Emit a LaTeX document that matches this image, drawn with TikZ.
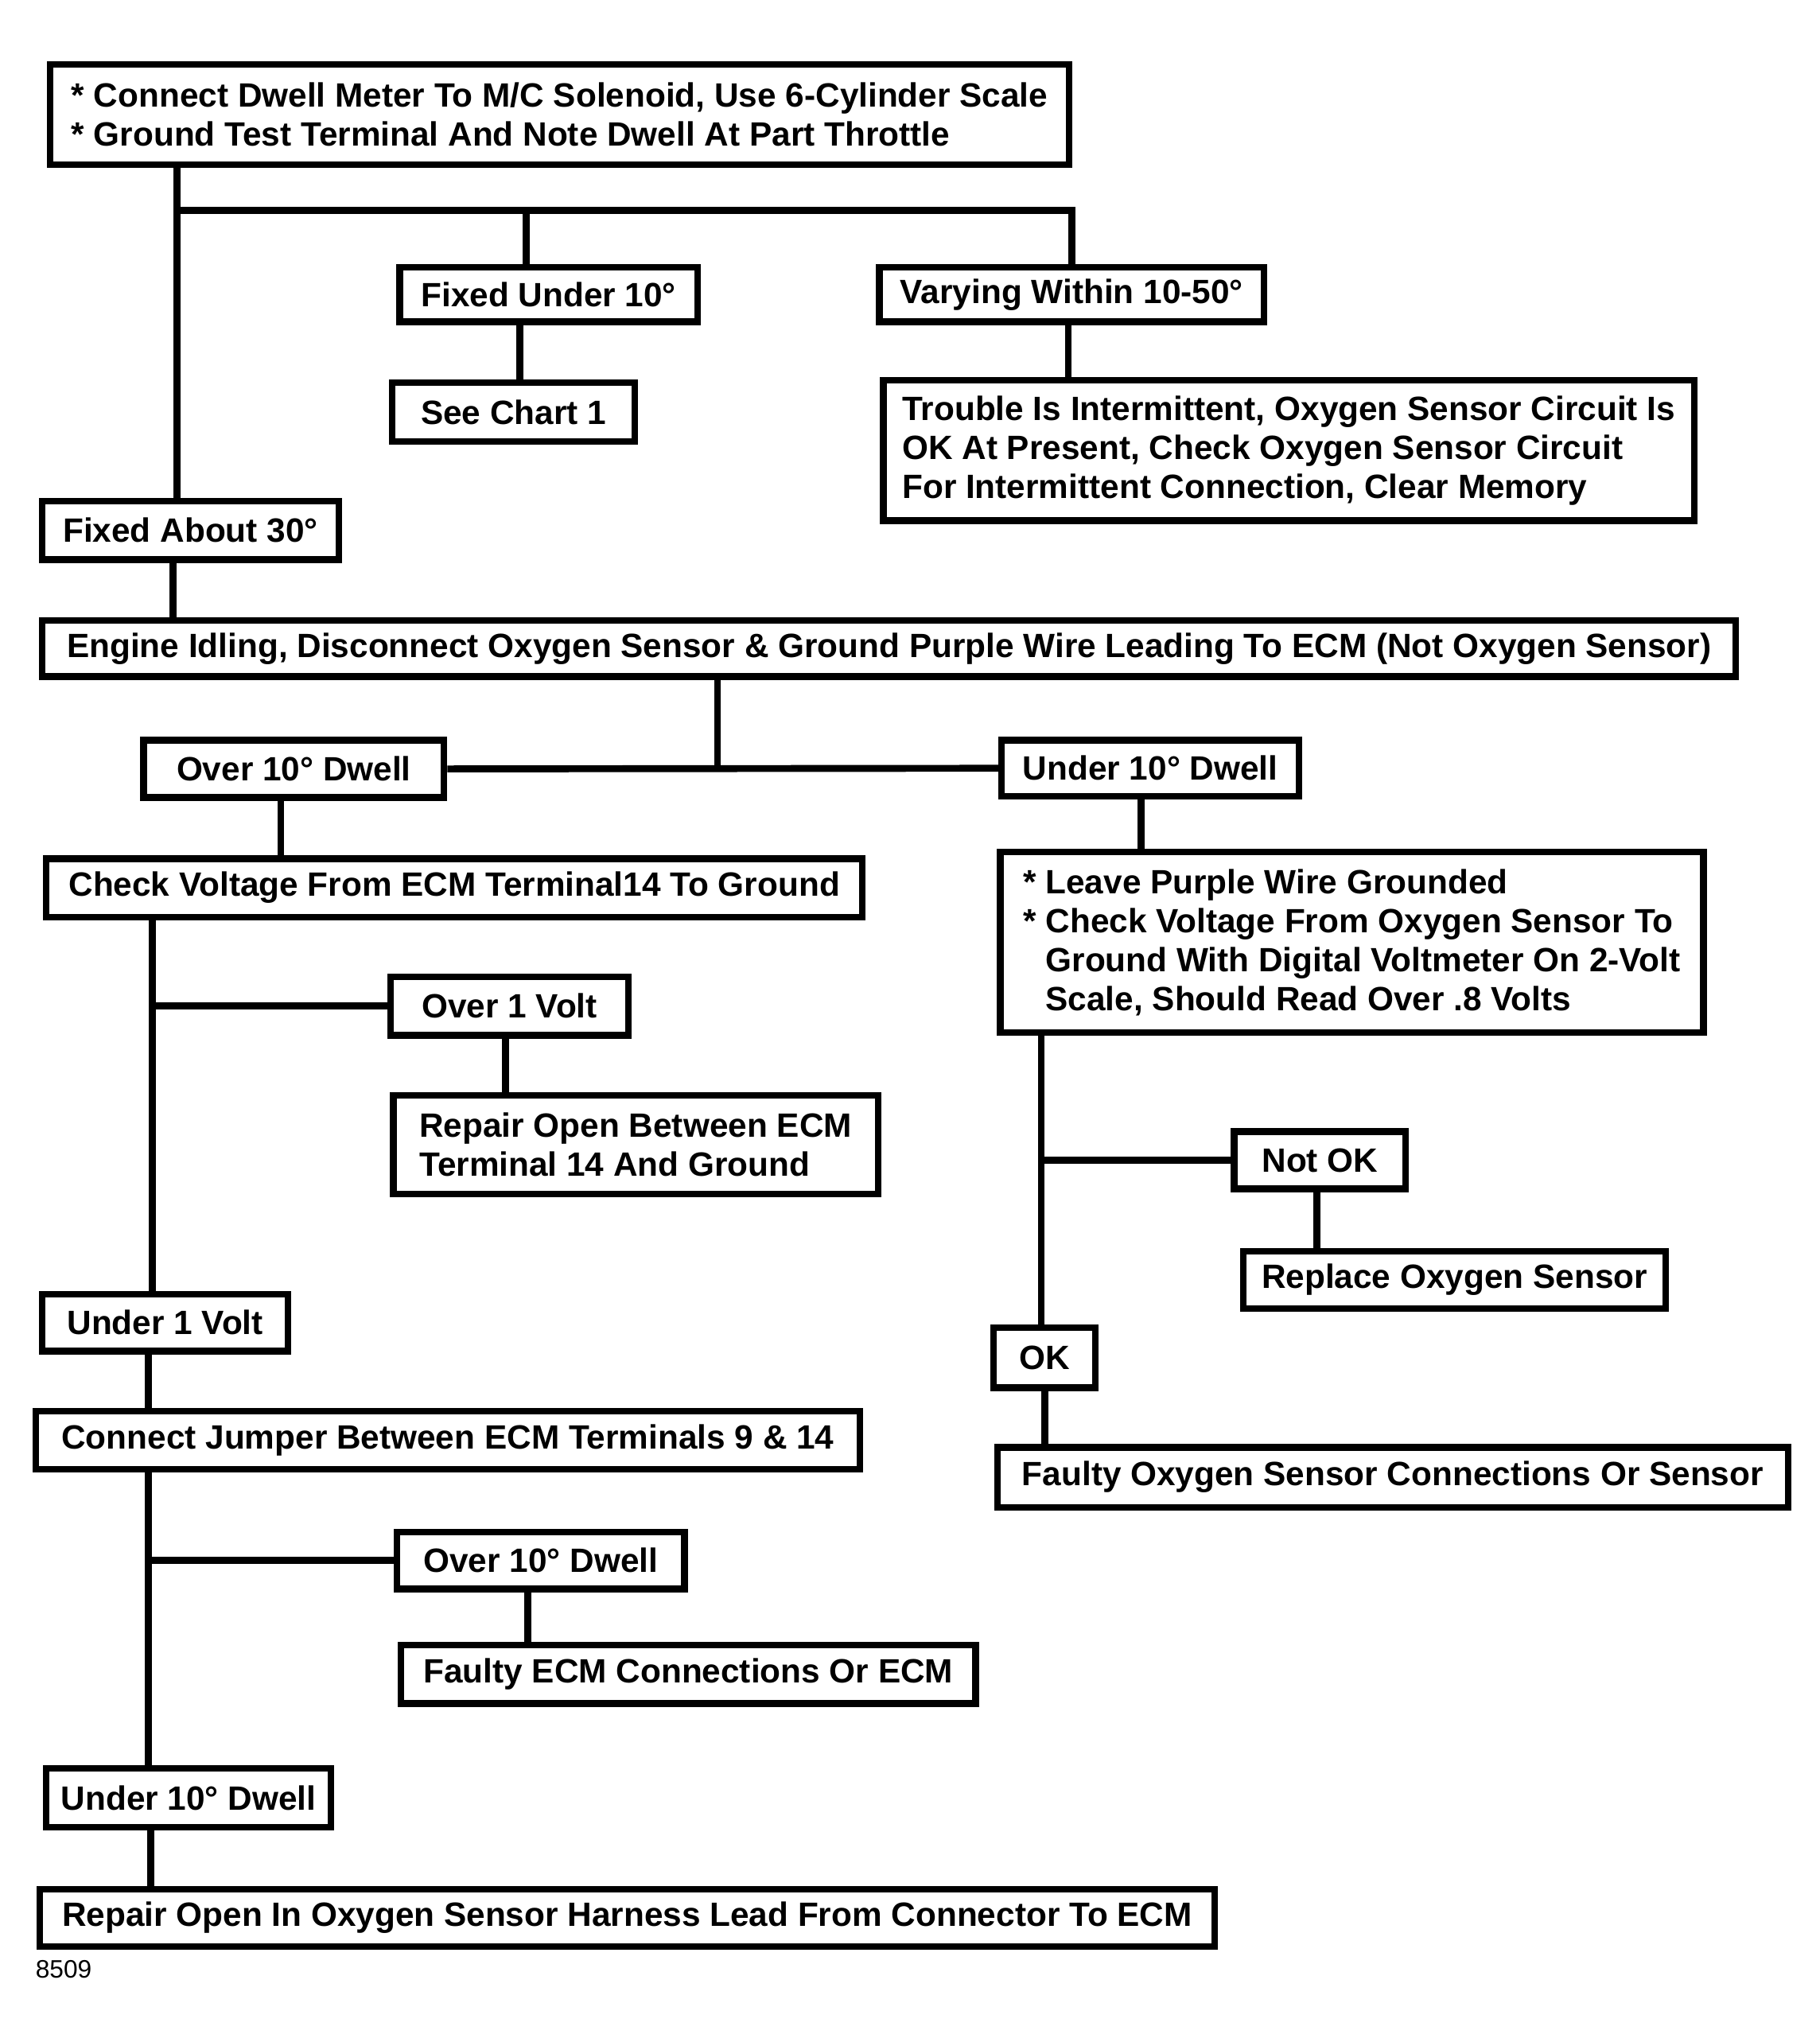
\documentclass[tikz,border=0pt]{standalone}
\usepackage{fontspec}
\setmainfont{Liberation Sans}
\newcommand\bx[6]{\node[box, anchor=north west, minimum width={(#4-#2)*0.49pt}, minimum height={(#5-#3)*0.49pt}] (#1) at (#2,#3) {#6};}
\newcommand\vc[3]{\coordinate (vx#1#2) at (#3,0); \draw[wire] (#1.south -| vx#1#2) -- (#2.north -| vx#1#2);}
\begin{document}
\begin{tikzpicture}[x=0.49pt,y=-0.49pt,
  box/.style={draw, line width=2.5pt, inner sep=0pt, align=left, font=\bfseries\fontsize{12.7}{14.7}\selectfont},
  wire/.style={line width=2.6pt}]
\useasboundingbox[fill=white] (0,0) rectangle (1400,1571);

\bx{top}{36}{47}{820}{124}{* Connect Dwell Meter To M/C Solenoid, Use 6-Cylinder Scale\\* Ground Test Terminal And Note Dwell At Part Throttle}
\bx{f10}{305}{203}{534}{245}{Fixed Under 10°}
\bx{chart}{299}{292}{486}{337}{See Chart 1}
\bx{v50}{674}{203}{970}{245}{Varying Within 10-50°}
\bx{trouble}{677}{290}{1301}{398}{Trouble Is Intermittent, Oxygen Sensor Circuit Is\\OK At Present, Check Oxygen Sensor Circuit\\For Intermittent Connection, Clear Memory}
\bx{f30}{30}{383}{258}{428}{Fixed About 30°}
\bx{engine}{30}{475}{1333}{518}{Engine Idling, Disconnect Oxygen Sensor \& Ground Purple Wire Leading To ECM (Not Oxygen Sensor)}
\bx{o10}{108}{567}{339}{611}{Over 10° Dwell}
\bx{u10}{768}{567}{997}{610}{Under 10° Dwell}
\bx{chk}{33}{658}{661}{703}{Check Voltage From ECM Terminal14 To Ground}
\bx{o1v}{298}{749}{481}{794}{Over 1 Volt}
\bx{rep1}{300}{840}{673}{916}{Repair Open Between ECM\\Terminal 14 And Ground}
\bx{leave}{767}{653}{1308}{792}{* Leave Purple Wire Grounded\\* Check Voltage From Oxygen Sensor To\\\hphantom{* }Ground With Digital Voltmeter On 2-Volt\\\hphantom{* }Scale, Should Read Over .8 Volts}
\bx{notok}{947}{868}{1079}{912}{Not OK}
\bx{replace}{954}{960}{1279}{1004}{Replace Oxygen Sensor}
\bx{ok}{762}{1019}{840}{1065}{OK}
\bx{fos}{765}{1111}{1373}{1157}{Faulty Oxygen Sensor Connections Or Sensor}
\bx{u1v}{30}{993}{219}{1037}{Under 1 Volt}
\bx{jump}{25}{1083}{659}{1128}{Connect Jumper Between ECM Terminals 9 \& 14}
\bx{o10b}{303}{1176}{524}{1220}{Over 10° Dwell}
\bx{fecm}{306}{1263}{748}{1308}{Faulty ECM Connections Or ECM}
\bx{u10b}{33}{1358}{252}{1403}{Under 10° Dwell}
\bx{rep2}{28}{1451}{932}{1495}{Repair Open In Oxygen Sensor Harness Lead From Connector To ECM}
\node[anchor=west, inner sep=0pt, font=\fontsize{9.5}{11}\selectfont] (code) at (27,1515) {8509};

% vertical connectors
\vc{top}{f30}{136}
\vc{f10}{chart}{400}
\vc{v50}{trouble}{822}
\vc{f30}{engine}{133}
\vc{o10}{chk}{216}
\vc{u10}{leave}{878}
\vc{chk}{u1v}{117}
\vc{o1v}{rep1}{389}
\vc{leave}{ok}{801}
\vc{notok}{replace}{1013}
\vc{ok}{fos}{804}
\vc{u1v}{jump}{114}
\vc{jump}{u10b}{114}
\vc{o10b}{fecm}{406}
\vc{u10b}{rep2}{116}

% branches
\coordinate (bus) at (136,162);
\coordinate (busf) at (405,162);
\draw[wire] (bus) -| (v50.north);
\draw[wire] (busf) -- (f10.north -| busf);
\coordinate (ej) at (552,0);
\draw[wire] (engine.south -| ej) -- (o10.east -| ej);
\draw[wire] (o10.east) -- (u10.west);
\draw[wire] (o1v.west -| vxchku1v) -- (o1v.west);
\draw[wire] (notok.west -| vxleaveok) -- (notok.west);
\draw[wire] (o10b.west -| vxjumpu10b) -- (o10b.west);
\end{tikzpicture}
\end{document}
